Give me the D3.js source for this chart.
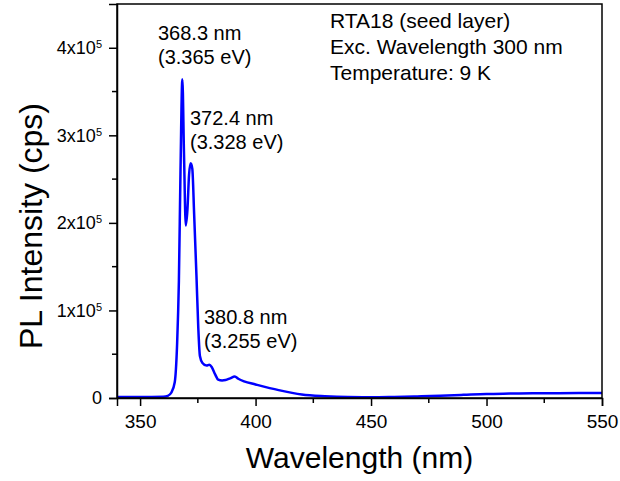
<!DOCTYPE html>
<html>
<head>
<meta charset="utf-8">
<script src="https://cdn.jsdelivr.net/npm/d3@7"></script>
<style>
  body { margin: 0; background: #fff; }
  svg { display: block; font-family: "Liberation Sans", Arial, sans-serif; }
  .axis path, .axis line { stroke: #000; stroke-width: 1.5; }
  .axis text { fill: #000; font-size: 19px; }
  .axis--y text { font-size: 18px; }
</style>
</head>
<body>
<svg id="chart"></svg>
<script>
// PL spectrum, values
const wavelengths = [340, 350, 360, 362, 363.5, 365, 366, 366.8, 367.5, 368.3, 369, 369.8, 370.5, 371.2, 371.9, 372.6, 373.4, 374.4, 375.2, 375.9, 377, 378.8, 380, 381, 382.5, 383.8, 385.5, 387, 389, 391, 392.5, 395, 400, 410, 420, 430, 440, 450, 460, 470, 480, 490, 500, 510, 520, 530, 540, 550]
const intensities = [1000, 1000, 1500, 2500, 6000, 18000, 60000, 134000, 260000, 364000, 280000, 197000, 215000, 255000, 268000, 262000, 210000, 140000, 80000, 48000, 40000, 37000, 38000, 35500, 27000, 21000, 20000, 20500, 22500, 24500, 22000, 19000, 15500, 9000, 4000, 2000, 1000, 800, 1200, 1800, 2600, 3600, 4600, 5000, 5300, 5500, 5600, 5700]

const xTicks = [350, 400, 450, 500, 550]
const xMinorTicks = [375, 425, 475, 525]
const yTicks = [0, 1e5, 2e5, 3e5, 4e5]
const yMinorTicks = [0.5e5, 1.5e5, 2.5e5, 3.5e5]

const peakLabels = [
    { nm: 368.3, lines: ['368.3 nm', '(3.365 eV)'] },
    { nm: 372.4, lines: ['372.4 nm', '(3.328 eV)'] },
    { nm: 380.8, lines: ['380.8 nm', '(3.255 eV)'] },
]
const infoLines = ['RTA18 (seed layer)', 'Exc. Wavelength 300 nm', 'Temperature: 9 K']

const width = 620
const height = 481
const margin = { top: 4, right: 18, bottom: 83, left: 117 }

const svg = d3.select('#chart')
    .attr('width', width)
    .attr('height', height)

const x = d3.scaleLinear().domain([340, 550]).range([margin.left, width - margin.right])
const y = d3.scaleLinear().domain([0, 4.5e5]).range([height - margin.bottom, margin.top])

const data = wavelengths.map((w, i) => [w, intensities[i]])

// spectrum
svg.append('path')
    .datum(data)
    .attr('fill', 'none')
    .attr('stroke', '#0000ff')
    .attr('stroke-width', 2.5)
    .attr('stroke-linejoin', 'round')
    .attr('d', d3.line()
        .x(d => x(d[0]))
        .y(d => y(d[1]))
        .curve(d3.curveMonotoneX))

// frame
svg.append('rect')
    .attr('x', x.range()[0])
    .attr('y', y.range()[1])
    .attr('width', x.range()[1] - x.range()[0])
    .attr('height', y.range()[0] - y.range()[1])
    .attr('fill', 'none')
    .attr('stroke', '#000')
    .attr('stroke-width', 1.5)

// axes
const xAxis = svg.append('g')
    .attr('class', 'axis')
    .attr('transform', `translate(0,${y.range()[0]})`)
    .call(d3.axisBottom(x).tickValues(xTicks).tickSize(8).tickPadding(9).tickFormat(d3.format('d')))
xAxis.append('g').selectAll('line')
    .data(xMinorTicks)
    .join('line')
    .attr('x1', d => x(d)).attr('x2', d => x(d))
    .attr('y1', 0).attr('y2', 5)

const yAxis = svg.append('g')
    .attr('class', 'axis axis--y')
    .attr('transform', `translate(${x.range()[0]},0)`)
    .call(d3.axisLeft(y).tickValues(yTicks).tickSize(8).tickPadding(7).tickFormat(() => ''))
yAxis.append('g').selectAll('line')
    .data(yMinorTicks)
    .join('line')
    .attr('x1', 0).attr('x2', -5)
    .attr('y1', d => y(d)).attr('y2', d => y(d))

// y tick labels like 4x10^5
yAxis.selectAll('.tick text').each(function (d) {
    const t = d3.select(this)
    if (d === 0) {
        t.text('0')
        return
    }
    t.text(null)
    t.append('tspan').text(`${d / 1e5}x10`)
    t.append('tspan').attr('dy', '-0.55em').attr('font-size', '11px').text('5')
})

// axis titles
svg.append('text')
    .attr('x', (x.range()[0] + x.range()[1]) / 2)
    .attr('y', 468)
    .attr('text-anchor', 'middle')
    .attr('font-size', 30)
    .text('Wavelength (nm)')

svg.append('text')
    .attr('transform', `translate(42,${(y.range()[0] + y.range()[1]) / 2 + 25}) rotate(-90)`)
    .attr('text-anchor', 'middle')
    .attr('font-size', 32)
    .text('PL Intensity (cps)')

// peak annotations
const peakPos = [[158, 40], [190, 125], [204, 324]]
peakLabels.forEach((p, i) => {
    const t = svg.append('text')
        .attr('x', peakPos[i][0])
        .attr('y', peakPos[i][1])
        .attr('font-size', 20)
    p.lines.forEach((line, j) => {
        t.append('tspan')
            .attr('x', peakPos[i][0])
            .attr('dy', j === 0 ? 0 : 24)
            .text(line)
    })
})

// info block
const info = svg.append('text')
    .attr('x', 330)
    .attr('y', 28)
    .attr('font-size', 21)
info.selectAll('tspan')
    .data(infoLines)
    .join('tspan')
    .attr('x', 330)
    .attr('dy', (d, i) => i === 0 ? 0 : 26)
    .text(d => d)
</script>
</body>
</html>
